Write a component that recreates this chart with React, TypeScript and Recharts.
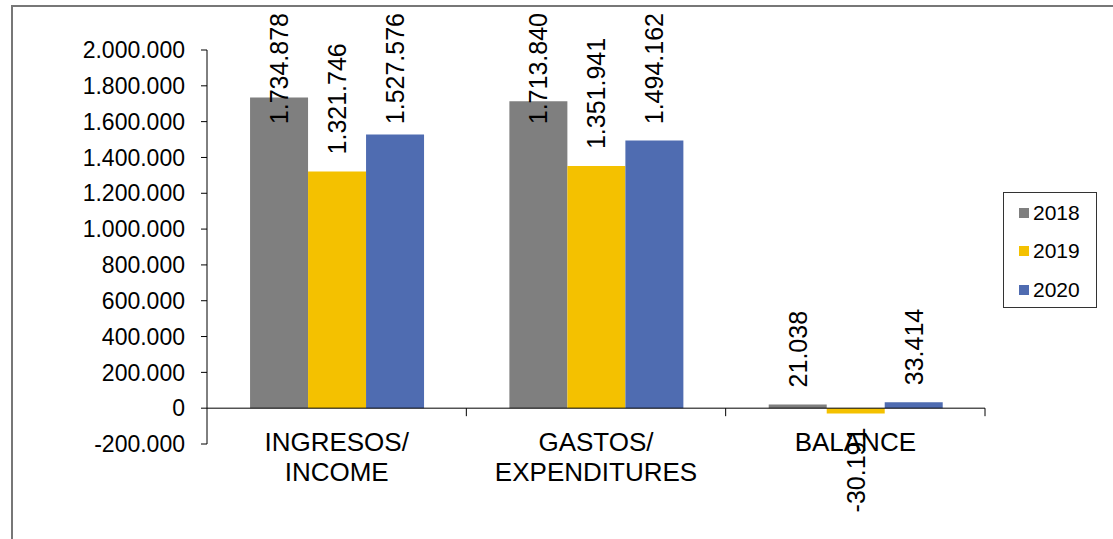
import { BarChart, Bar, XAxis, YAxis, ReferenceLine, LabelList } from 'recharts'

const categories = ['INGRESOS/\nINCOME', 'GASTOS/\nEXPENDITURES', 'BALANCE']
const years = ['2018', '2019', '2020']
const values2018 = [1734878, 1713840, 21038]
const values2019 = [1321746, 1351941, -30191]
const values2020 = [1527576, 1494162, 33414]
const yTicks = [-200000, 0, 200000, 400000, 600000, 800000, 1000000, 1200000, 1400000, 1600000, 1800000, 2000000]
const colors = ['#7f7f7f', '#f4c100', '#4f6cb1']

const W = 1113
const H = 539
const PLOT_LEFT = 207
const PLOT_RIGHT = 985
const PLOT_TOP = 50
const PLOT_BOTTOM = 444
const Y_MIN = yTicks[0]
const Y_MAX = yTicks[yTicks.length - 1]
const ZERO_Y = PLOT_TOP + (Y_MAX / (Y_MAX - Y_MIN)) * (PLOT_BOTTOM - PLOT_TOP)
const FONT = '"Liberation Sans", Arial, sans-serif'

const data = categories.map((name, i) => ({
  name,
  y2018: values2018[i],
  y2019: values2019[i],
  y2020: values2020[i],
}))

const fmt = (n: number) => {
  const s = String(Math.abs(n)).replace(/\B(?=(\d{3})+(?!\d))/g, '.')
  return n < 0 ? '-' + s : s
}

// rough Arial widths, used to keep tall labels inside the frame
const textLen = (s: string, size: number) =>
  s.split('').reduce((acc, c) => acc + (c === '.' ? 0.278 : c === '-' ? 0.333 : 0.556), 0) * size

const LABEL_SIZE = 25

function ValueLabel(props: any) {
  const vb = props.viewBox || {}
  const x = props.x ?? vb.x
  const y = props.y ?? vb.y
  const width = props.width ?? vb.width
  const height = props.height ?? vb.height
  const value = Number(props.value)
  const cx = x + width / 2
  const top = Math.min(y, y + height)
  const bottom = Math.max(y, y + height)
  const txt = fmt(value)
  let ly = top - 17
  let anchor = 'start'
  if (value < 0) {
    ly = bottom + 14
    anchor = 'end'
  } else if (ly - textLen(txt, LABEL_SIZE) < 13) {
    ly = 13
    anchor = 'end'
  }
  return (
    <text
      x={cx}
      y={ly}
      transform={`rotate(-90 ${cx} ${ly})`}
      textAnchor={anchor}
      dominantBaseline="central"
      fontSize={LABEL_SIZE}
      fill="#000"
      fontFamily={FONT}
    >
      {txt}
    </text>
  )
}

function CategoryTick(props: any) {
  const { x, y, payload } = props
  const half = (PLOT_RIGHT - PLOT_LEFT) / categories.length / 2
  const lines = String(payload.value).split('\n')
  return (
    <g>
      <line x1={x + half} x2={x + half} y1={ZERO_Y} y2={ZERO_Y + 8} stroke="#000" />
      {lines.map((l, i) => (
        <text
          key={i}
          x={x}
          y={y - 2 + i * 30}
          textAnchor="middle"
          dominantBaseline="central"
          fontSize={26}
          fill="#000"
          fontFamily={FONT}
        >
          {l}
        </text>
      ))}
    </g>
  )
}

export default function App() {
  const seriesKeys = ['y2018', 'y2019', 'y2020']
  return (
    <div style={{ position: 'fixed', left: 0, top: 0, width: W, height: H, overflow: 'hidden', background: '#fff' }}>
      <div
        style={{
          position: 'absolute',
          left: 11,
          top: 5,
          width: W,
          height: H,
          borderTop: '2px solid #777',
          borderLeft: '2px solid #777',
        }}
      />
      <div style={{ position: 'absolute', left: 0, top: 0 }}>
        <BarChart
          width={W}
          height={H}
          data={data}
          margin={{ top: PLOT_TOP, right: W - PLOT_RIGHT, bottom: 0, left: PLOT_LEFT - 120 }}
          barCategoryGap="16.6%"
          barGap={0}
          style={{ fontFamily: FONT }}
        >
          <YAxis
            width={120}
            domain={[Y_MIN, Y_MAX]}
            ticks={yTicks}
            interval={0}
            tickFormatter={fmt}
            axisLine={{ stroke: '#000' }}
            tickLine={{ stroke: '#000' }}
            tickSize={6}
            tickMargin={16}
            tick={{ fontSize: 23, fill: '#000', fontFamily: FONT }}
          />
          <XAxis
            dataKey="name"
            height={H - PLOT_BOTTOM}
            axisLine={false}
            tickLine={false}
            tickSize={0}
            tickMargin={0}
            interval={0}
            tick={<CategoryTick />}
          />
          {seriesKeys.map((k, i) => (
            <Bar key={k} dataKey={k} name={years[i]} fill={colors[i]} isAnimationActive={false}>
              <LabelList dataKey={k} content={<ValueLabel />} />
            </Bar>
          ))}
          <ReferenceLine y={0} stroke="#000" strokeWidth={1} />
        </BarChart>
      </div>
      <div
        style={{
          position: 'absolute',
          left: 1003,
          top: 192,
          width: 94,
          height: 116,
          border: '1.5px solid #333',
          boxSizing: 'border-box',
          fontFamily: FONT,
        }}
      >
        {years.map((yr, i) => (
          <div
            key={yr}
            style={{ position: 'absolute', left: 15, top: 8 + i * 38.3, height: 24, display: 'flex', alignItems: 'center' }}
          >
            <span style={{ width: 10, height: 10, background: colors[i], display: 'inline-block', marginRight: 4 }} />
            <span style={{ fontSize: 21, color: '#000', lineHeight: '24px' }}>{yr}</span>
          </div>
        ))}
      </div>
    </div>
  )
}
